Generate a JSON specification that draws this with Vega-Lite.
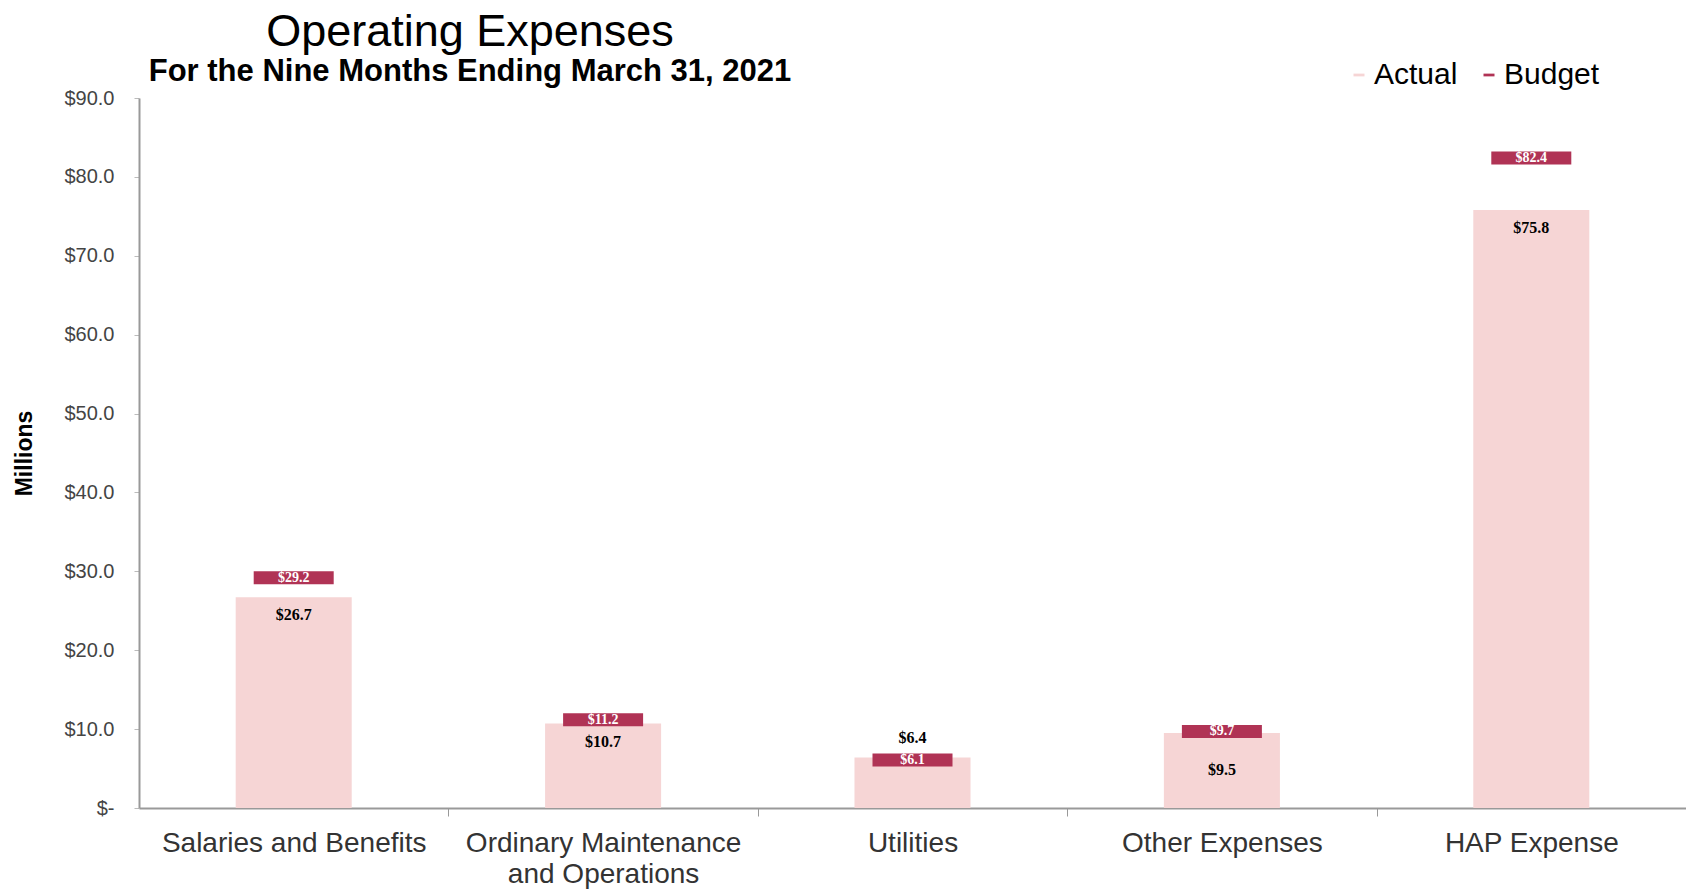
{
  "$schema": "https://vega.github.io/schema/vega-lite/v6.json",
  "autosize": {"type": "none"},
  "padding": {"left": 139, "top": 98, "right": 0, "bottom": 83},
  "width": 1547,
  "height": 710,
  "background": "white",
  "title": {
    "text": "Operating Expenses",
    "subtitle": "For the Nine Months Ending March 31, 2021",
    "anchor": "start",
    "frame": "group",
    "align": "center",
    "dx": 331,
    "offset": -27,
    "font": "Liberation Sans",
    "fontSize": 45,
    "fontWeight": "normal",
    "color": "#000000",
    "subtitleFont": "Liberation Sans",
    "subtitleFontSize": 31,
    "subtitleFontWeight": "bold",
    "subtitleColor": "#000000",
    "subtitlePadding": 2
  },
  "data": {
    "values": [
      {"category": "Salaries and Benefits", "actual": 26.7, "budget": 29.2},
      {"category": "Ordinary Maintenance|and Operations", "actual": 10.7, "budget": 11.2},
      {"category": "Utilities", "actual": 6.4, "budget": 6.1},
      {"category": "Other Expenses", "actual": 9.5, "budget": 9.7},
      {"category": "HAP Expense", "actual": 75.8, "budget": 82.4}
    ]
  },
  "config": {
    "view": {"stroke": null},
    "axis": {"labelFont": "Liberation Sans", "titleFont": "Liberation Sans"}
  },
  "encoding": {
    "x": {
      "field": "category",
      "type": "nominal",
      "sort": null,
      "scale": {"paddingInner": 0.625, "paddingOuter": 0.3125},
      "axis": {
        "title": null,
        "labelAngle": 0,
        "labelExpr": "split(datum.label, '|')",
        "labelFontSize": 28,
        "labelColor": "#333333",
        "labelPadding": 13,
        "labelLineHeight": 31,
        "labelLimit": 500,
        "tickOffset": 154.7,
        "labelOffset": -154.7,
        "tickSize": 8,
        "tickColor": "#999999",
        "domainColor": "#999999",
        "domainWidth": 2
      }
    }
  },
  "layer": [
    {
      "mark": {"type": "bar", "opacity": 1},
      "encoding": {
        "y": {
          "field": "actual",
          "type": "quantitative",
          "scale": {"domain": [0, 90], "nice": false},
          "axis": {
            "title": "Millions",
            "titleFontSize": 23,
            "titleFontWeight": "bold",
            "titleColor": "#000000",
            "titleX": -115,
            "titleBaseline": "middle",
            "values": [0, 10, 20, 30, 40, 50, 60, 70, 80, 90],
            "labelExpr": "datum.value == 0 ? '$-' : '$' + format(datum.value, '.1f')",
            "labelFontSize": 20,
            "labelColor": "#444444",
            "labelPadding": 20,
            "tickSize": 5,
            "tickColor": "#bbbbbb",
            "domainColor": "#999999",
            "domainWidth": 2,
            "grid": false
          }
        },
        "color": {
          "datum": "Actual",
          "type": "nominal",
          "scale": {"domain": ["Actual", "Budget"], "range": ["#f6d5d5", "#b03355"]},
          "legend": {
            "title": null,
            "orient": "none",
            "direction": "horizontal",
            "legendX": 1205,
            "legendY": -38,
            "padding": 0,
            "labelFont": "Liberation Sans",
            "labelFontSize": 30,
            "labelColor": "#000000",
            "labelOffset": 0,
            "columnPadding": 16,
            "symbolType": "M-1,-0.25H1V0.25H-1Z",
            "symbolSize": 121,
            "symbolStrokeWidth": 0
          }
        }
      }
    },
    {
      "mark": {"type": "tick", "thickness": 13, "size": 80, "opacity": 1},
      "encoding": {
        "y": {"field": "budget", "type": "quantitative"},
        "color": {"datum": "Budget", "type": "nominal"}
      }
    },
    {
      "mark": {"type": "text", "font": "Liberation Serif", "fontSize": 14, "fontWeight": "bold", "color": "#ffffff", "baseline": "middle"},
      "encoding": {
        "y": {"field": "budget", "type": "quantitative"},
        "text": {"field": "budget", "type": "quantitative", "format": "$.1f"}
      }
    },
    {
      "transform": [{"filter": "datum.category != 'Utilities' && datum.category != 'Other Expenses'"}],
      "mark": {"type": "text", "font": "Liberation Serif", "fontSize": 16, "fontWeight": "bold", "color": "#000000", "baseline": "middle", "dy": 18},
      "encoding": {
        "y": {"field": "actual", "type": "quantitative"},
        "text": {"field": "actual", "type": "quantitative", "format": "$.1f"}
      }
    },
    {
      "transform": [{"filter": "datum.category == 'Utilities'"}],
      "mark": {"type": "text", "font": "Liberation Serif", "fontSize": 16, "fontWeight": "bold", "color": "#000000", "baseline": "middle", "dy": -20},
      "encoding": {
        "y": {"field": "actual", "type": "quantitative"},
        "text": {"field": "actual", "type": "quantitative", "format": "$.1f"}
      }
    },
    {
      "transform": [{"filter": "datum.category == 'Other Expenses'"}],
      "mark": {"type": "text", "font": "Liberation Serif", "fontSize": 16, "fontWeight": "bold", "color": "#000000", "baseline": "middle", "dy": 37},
      "encoding": {
        "y": {"field": "actual", "type": "quantitative"},
        "text": {"field": "actual", "type": "quantitative", "format": "$.1f"}
      }
    }
  ]
}
